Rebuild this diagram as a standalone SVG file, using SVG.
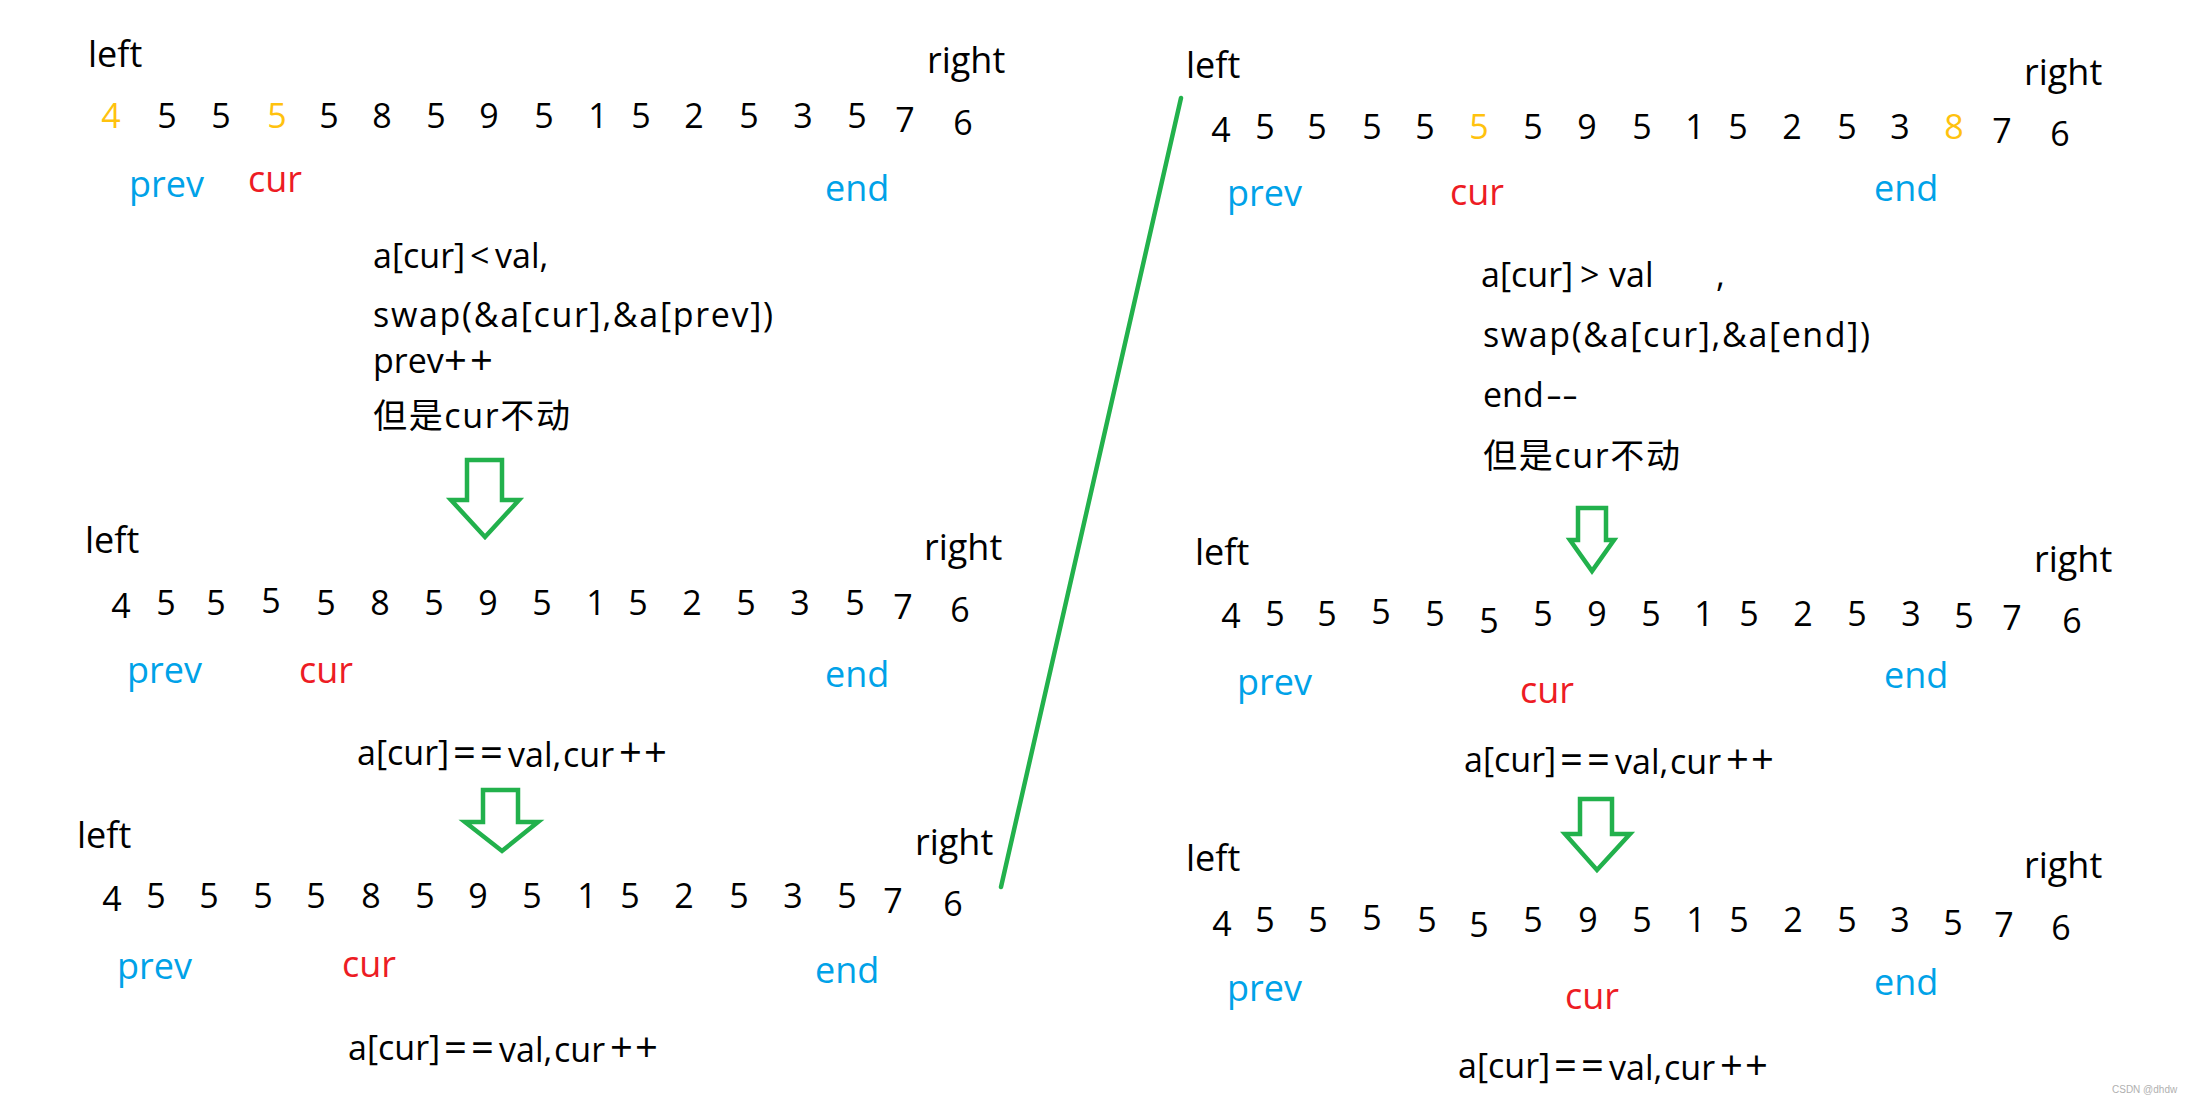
<svg xmlns="http://www.w3.org/2000/svg" width="2186" height="1104" viewBox="0 0 2186 1104">
<style>
text{font-family:"Open Sans","Noto Sans CJK SC",sans-serif;fill:#000}
.lbl{font-size:36px}
.d{font-size:34px;text-anchor:middle}
.t{font-size:34px}
.op{font-size:40px}
.o{fill:#FFC20E}
.red{fill:#ED1C24}
.blue{fill:#00A2E8}
.arrow{fill:none;stroke:#22B14C;stroke-width:4.5;stroke-linejoin:miter}
.div{stroke:#22B14C;stroke-width:4.5;stroke-linecap:round}
.wm{font-family:"Liberation Sans",sans-serif;font-size:10px;fill:#b0b0b0}
</style>
<rect width="2186" height="1104" fill="#fff"/>

<g id="state-tl">
<text class="lbl" x="88" y="67">left</text>
<text class="lbl" x="927" y="73">right</text>
<text class="d o" x="111" y="128">4</text><text class="d" x="167" y="128">5</text><text class="d" x="221" y="128">5</text><text class="d o" x="277" y="128">5</text><text class="d" x="329" y="128">5</text><text class="d" x="382" y="128">8</text><text class="d" x="436" y="128">5</text><text class="d" x="489" y="128">9</text><text class="d" x="544" y="128">5</text><text class="d" x="598" y="128">1</text><text class="d" x="641" y="128">5</text><text class="d" x="694" y="128">2</text><text class="d" x="749" y="128">5</text><text class="d" x="803" y="128">3</text><text class="d" x="857" y="128">5</text><text class="d" x="905" y="132">7</text><text class="d" x="963" y="135">6</text>
<text class="lbl blue" x="129" y="197">prev</text>
<text class="lbl red" x="248" y="192">cur</text>
<text class="lbl blue" x="825" y="201">end</text>
</g>

<g id="step-less">
<text class="t" y="268"><tspan x="373">a[cur]</tspan><tspan x="470">&lt;</tspan><tspan x="495">val,</tspan></text>
<text class="t" x="373" y="327" textLength="400" lengthAdjust="spacing">swap(&amp;a[cur],&amp;a[prev])</text>
<text class="t" y="373"><tspan x="373">prev</tspan><tspan class="op" x="444" y="375">+</tspan><tspan class="op" x="470" y="375">+</tspan></text>
<text class="t" x="373" y="428" textLength="197" lengthAdjust="spacing">但是cur不动</text>
</g>

<g id="state-ml">
<text class="lbl" x="85" y="553">left</text>
<text class="lbl" x="924" y="560">right</text>
<text class="d" x="121" y="618">4</text><text class="d" x="166" y="615">5</text><text class="d" x="216" y="615">5</text><text class="d" x="271" y="613">5</text><text class="d" x="326" y="615">5</text><text class="d" x="380" y="615">8</text><text class="d" x="434" y="615">5</text><text class="d" x="488" y="615">9</text><text class="d" x="542" y="615">5</text><text class="d" x="596" y="615">1</text><text class="d" x="638" y="615">5</text><text class="d" x="692" y="615">2</text><text class="d" x="746" y="615">5</text><text class="d" x="800" y="615">3</text><text class="d" x="855" y="615">5</text><text class="d" x="903" y="619">7</text><text class="d" x="960" y="622">6</text>
<text class="lbl blue" x="127" y="683">prev</text>
<text class="lbl red" x="299" y="683">cur</text>
<text class="lbl blue" x="825" y="687">end</text>
</g>

<g id="step-eq-1">
<text class="t" y="765"><tspan x="357">a[cur]</tspan><tspan class="op" x="453" y="767">=</tspan><tspan class="op" x="480" y="767">=</tspan><tspan x="508">val,</tspan><tspan x="563">cur</tspan><tspan class="op" x="619" y="767">+</tspan><tspan class="op" x="644" y="767">+</tspan></text>
</g>

<g id="state-bl">
<text class="lbl" x="77" y="848">left</text>
<text class="lbl" x="915" y="855">right</text>
<text class="d" x="112" y="911">4</text><text class="d" x="156" y="908">5</text><text class="d" x="209" y="908">5</text><text class="d" x="263" y="908">5</text><text class="d" x="316" y="908">5</text><text class="d" x="371" y="908">8</text><text class="d" x="425" y="908">5</text><text class="d" x="478" y="908">9</text><text class="d" x="532" y="908">5</text><text class="d" x="587" y="908">1</text><text class="d" x="630" y="908">5</text><text class="d" x="684" y="908">2</text><text class="d" x="739" y="908">5</text><text class="d" x="793" y="908">3</text><text class="d" x="847" y="908">5</text><text class="d" x="893" y="913">7</text><text class="d" x="953" y="916">6</text>
<text class="lbl blue" x="117" y="979">prev</text>
<text class="lbl red" x="342" y="977">cur</text>
<text class="lbl blue" x="815" y="983">end</text>
</g>

<g id="step-eq-2">
<text class="t" y="1060"><tspan x="348">a[cur]</tspan><tspan class="op" x="444" y="1062">=</tspan><tspan class="op" x="471" y="1062">=</tspan><tspan x="499">val,</tspan><tspan x="554">cur</tspan><tspan class="op" x="610" y="1062">+</tspan><tspan class="op" x="635" y="1062">+</tspan></text>
</g>

<g id="state-tr">
<text class="lbl" x="1186" y="78">left</text>
<text class="lbl" x="2024" y="85">right</text>
<text class="d" x="1221" y="142">4</text><text class="d" x="1265" y="139">5</text><text class="d" x="1317" y="139">5</text><text class="d" x="1372" y="139">5</text><text class="d" x="1425" y="139">5</text><text class="d o" x="1479" y="139">5</text><text class="d" x="1533" y="139">5</text><text class="d" x="1587" y="139">9</text><text class="d" x="1642" y="139">5</text><text class="d" x="1695" y="139">1</text><text class="d" x="1738" y="139">5</text><text class="d" x="1792" y="139">2</text><text class="d" x="1847" y="139">5</text><text class="d" x="1900" y="139">3</text><text class="d o" x="1954" y="139">8</text><text class="d" x="2002" y="143">7</text><text class="d" x="2060" y="146">6</text>
<text class="lbl blue" x="1227" y="206">prev</text>
<text class="lbl red" x="1450" y="205">cur</text>
<text class="lbl blue" x="1874" y="201">end</text>
</g>

<g id="step-greater">
<text class="t" y="287"><tspan x="1481">a[cur]</tspan><tspan x="1580">&gt;</tspan><tspan x="1609">val</tspan><tspan x="1716">,</tspan></text>
<text class="t" x="1483" y="347" textLength="387" lengthAdjust="spacing">swap(&amp;a[cur],&amp;a[end])</text>
<text class="t" y="407"><tspan x="1483">end</tspan><tspan x="1546" textLength="32" lengthAdjust="spacingAndGlyphs">--</tspan></text>
<text class="t" x="1483" y="468" textLength="197" lengthAdjust="spacing">但是cur不动</text>
</g>

<g id="state-mr">
<text class="lbl" x="1195" y="565">left</text>
<text class="lbl" x="2034" y="572">right</text>
<text class="d" x="1231" y="628">4</text><text class="d" x="1275" y="626">5</text><text class="d" x="1327" y="626">5</text><text class="d" x="1381" y="624">5</text><text class="d" x="1435" y="626">5</text><text class="d" x="1489" y="633">5</text><text class="d" x="1543" y="626">5</text><text class="d" x="1597" y="626">9</text><text class="d" x="1651" y="626">5</text><text class="d" x="1704" y="626">1</text><text class="d" x="1749" y="626">5</text><text class="d" x="1803" y="626">2</text><text class="d" x="1857" y="626">5</text><text class="d" x="1911" y="626">3</text><text class="d" x="1964" y="628">5</text><text class="d" x="2012" y="630">7</text><text class="d" x="2072" y="633">6</text>
<text class="lbl blue" x="1237" y="695">prev</text>
<text class="lbl red" x="1520" y="703">cur</text>
<text class="lbl blue" x="1884" y="688">end</text>
</g>

<g id="step-eq-3">
<text class="t" y="772"><tspan x="1464">a[cur]</tspan><tspan class="op" x="1560" y="774">=</tspan><tspan class="op" x="1587" y="774">=</tspan><tspan x="1615">val,</tspan><tspan x="1670">cur</tspan><tspan class="op" x="1726" y="774">+</tspan><tspan class="op" x="1751" y="774">+</tspan></text>
</g>

<g id="state-br">
<text class="lbl" x="1186" y="871">left</text>
<text class="lbl" x="2024" y="878">right</text>
<text class="d" x="1222" y="936">4</text><text class="d" x="1265" y="932">5</text><text class="d" x="1318" y="932">5</text><text class="d" x="1372" y="930">5</text><text class="d" x="1427" y="932">5</text><text class="d" x="1479" y="937">5</text><text class="d" x="1533" y="932">5</text><text class="d" x="1588" y="932">9</text><text class="d" x="1642" y="932">5</text><text class="d" x="1696" y="932">1</text><text class="d" x="1739" y="932">5</text><text class="d" x="1793" y="932">2</text><text class="d" x="1847" y="932">5</text><text class="d" x="1900" y="932">3</text><text class="d" x="1953" y="935">5</text><text class="d" x="2004" y="937">7</text><text class="d" x="2061" y="940">6</text>
<text class="lbl blue" x="1227" y="1001">prev</text>
<text class="lbl red" x="1565" y="1009">cur</text>
<text class="lbl blue" x="1874" y="995">end</text>
</g>

<g id="step-eq-4">
<text class="t" y="1078"><tspan x="1458">a[cur]</tspan><tspan class="op" x="1554" y="1080">=</tspan><tspan class="op" x="1581" y="1080">=</tspan><tspan x="1609">val,</tspan><tspan x="1664">cur</tspan><tspan class="op" x="1720" y="1080">+</tspan><tspan class="op" x="1745" y="1080">+</tspan></text>
</g>

<g id="connectors">
<polygon class="arrow" points="467,460 502,460 502,500 519,500 485,537 451,500 467,500"/>
<polygon class="arrow" points="483,790 518,790 518,822 538,822 502,851 465,822 483,822"/>
<polygon class="arrow" points="1578,508 1606,508 1606,540 1614,540 1592,571 1570,540 1578,540"/>
<polygon class="arrow" points="1580,799 1612,799 1612,834 1630,834 1597,870 1565,834 1580,834"/>
<line class="div" x1="1181" y1="98" x2="1001" y2="887"/>
</g>

<text class="wm" x="2112" y="1093">CSDN @dhdw</text>
</svg>
